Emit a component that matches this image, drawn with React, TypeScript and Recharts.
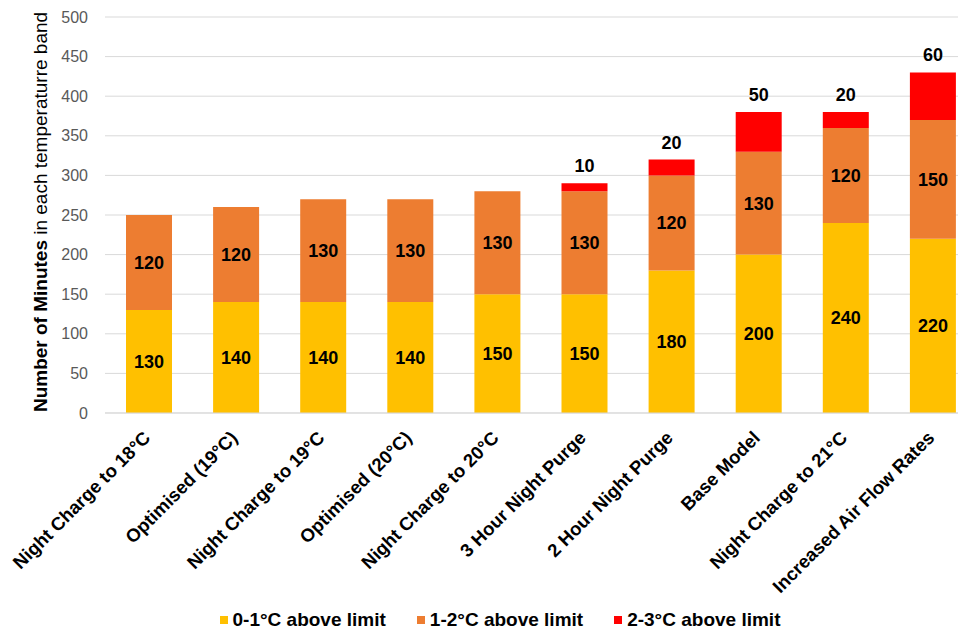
import { BarChart, Bar, XAxis, YAxis, CartesianGrid, Legend, LabelList } from "recharts"

const scenarios = [
  "Night Charge to 18°C",
  "Optimised (19°C)",
  "Night Charge to 19°C",
  "Optimised (20°C)",
  "Night Charge to 20°C",
  "3 Hour Night Purge",
  "2 Hour Night Purge",
  "Base Model",
  "Night Charge to 21°C",
  "Increased Air Flow Rates",
]
const band01 = [130, 140, 140, 140, 150, 150, 180, 200, 240, 220]
const band12 = [120, 120, 130, 130, 130, 130, 120, 130, 120, 150]
const band23 = [null, null, null, null, null, 10, 20, 50, 20, 60]
const yTicks = [0, 50, 100, 150, 200, 250, 300, 350, 400, 450, 500]

const seriesNames = ["0-1°C above limit", "1-2°C above limit", "2-3°C above limit"]
const colors = ["#FFC000", "#ED7D31", "#FF0000"]

const data = scenarios.map((name, i) => ({
  name,
  b01: band01[i],
  b12: band12[i],
  b23: band23[i],
}))

const FONT = "'Liberation Sans', Arial, sans-serif"

function XTick(props: any) {
  const { x, y, payload } = props
  const tx = x + 3
  const ty = y + 18
  return (
    <text
      x={tx}
      y={ty}
      transform={`rotate(-45, ${tx}, ${ty})`}
      textAnchor="end"
      fontSize={18.5}
      fontWeight="bold"
      fontFamily={FONT}
      fill="#000"
    >
      {payload.value}
    </text>
  )
}

// labels for the top band sit above the bars; the last one gets a small leader line
function TopLabel(props: any) {
  const { x, y, width, value, index } = props
  if (value == null) return null
  const cx = x + width / 2
  const last = index === scenarios.length - 1
  const ly = last ? y - 21 : y - 17
  return (
    <g>
      {last && <line x1={cx} x2={cx} y1={y} y2={y - 11} stroke="#a6a6a6" strokeWidth={1} />}
      <text
        x={cx}
        y={ly}
        textAnchor="middle"
        dominantBaseline="central"
        fontSize={18}
        fontWeight="bold"
        fontFamily={FONT}
        fill="#000"
      >
        {value}
      </text>
    </g>
  )
}

function LegendBox() {
  return (
    <div
      style={{
        display: "flex",
        justifyContent: "center",
        gap: 31,
        fontFamily: FONT,
        fontWeight: "bold",
        fontSize: 19,
        lineHeight: "24px",
        color: "#000",
        paddingLeft: 24,
      }}
    >
      {seriesNames.map((n, i) => (
        <div key={n} style={{ display: "flex", alignItems: "center" }}>
          <span style={{ width: 8, height: 8, background: colors[i], marginRight: 5, display: "inline-block" }} />
          {n}
        </div>
      ))}
    </div>
  )
}

export default function App() {
  const inside = { fontSize: 18, fontWeight: "bold", fill: "#000", fontFamily: FONT }
  return (
    <div
      style={{
        position: "fixed",
        left: 0,
        top: 0,
        width: 958,
        height: 632,
        overflow: "hidden",
        background: "#fff",
      }}
    >
      <BarChart
        width={976}
        height={632}
        data={data}
        margin={{ top: 17, right: 0, left: 0, bottom: 0 }}
        barSize={46}
      >
        <CartesianGrid vertical={false} stroke="#d9d9d9" />
        <XAxis
          dataKey="name"
          interval={0}
          height={195}
          tick={<XTick />}
          tickLine={false}
          axisLine={{ stroke: "#d9d9d9" }}
        />
        <YAxis
          width={105}
          domain={[0, 500]}
          ticks={yTicks}
          tickLine={false}
          axisLine={false}
          tickSize={6}
          tickMargin={11}
          tick={{ fontSize: 16, fill: "#595959", fontFamily: FONT }}
          label={() => {
            const cx = 40
            const cy = 212
            return (
              <text
                x={cx}
                y={cy}
                transform={`rotate(-90, ${cx}, ${cy})`}
                textAnchor="middle"
                dominantBaseline="central"
                fontSize={19}
                fontFamily={FONT}
                fill="#000"
              >
                <tspan fontWeight="bold">Number of Minutes</tspan>
                <tspan> in each temperaturre band</tspan>
              </text>
            )
          }}
        />
        <Legend verticalAlign="bottom" height={24} content={<LegendBox />} />
        <Bar dataKey="b01" name={seriesNames[0]} stackId="a" fill={colors[0]} isAnimationActive={false}>
          <LabelList dataKey="b01" position="center" style={inside} />
        </Bar>
        <Bar dataKey="b12" name={seriesNames[1]} stackId="a" fill={colors[1]} isAnimationActive={false}>
          <LabelList dataKey="b12" position="center" style={inside} />
        </Bar>
        <Bar dataKey="b23" name={seriesNames[2]} stackId="a" fill={colors[2]} isAnimationActive={false}>
          <LabelList dataKey="b23" content={<TopLabel />} />
        </Bar>
      </BarChart>
    </div>
  )
}
